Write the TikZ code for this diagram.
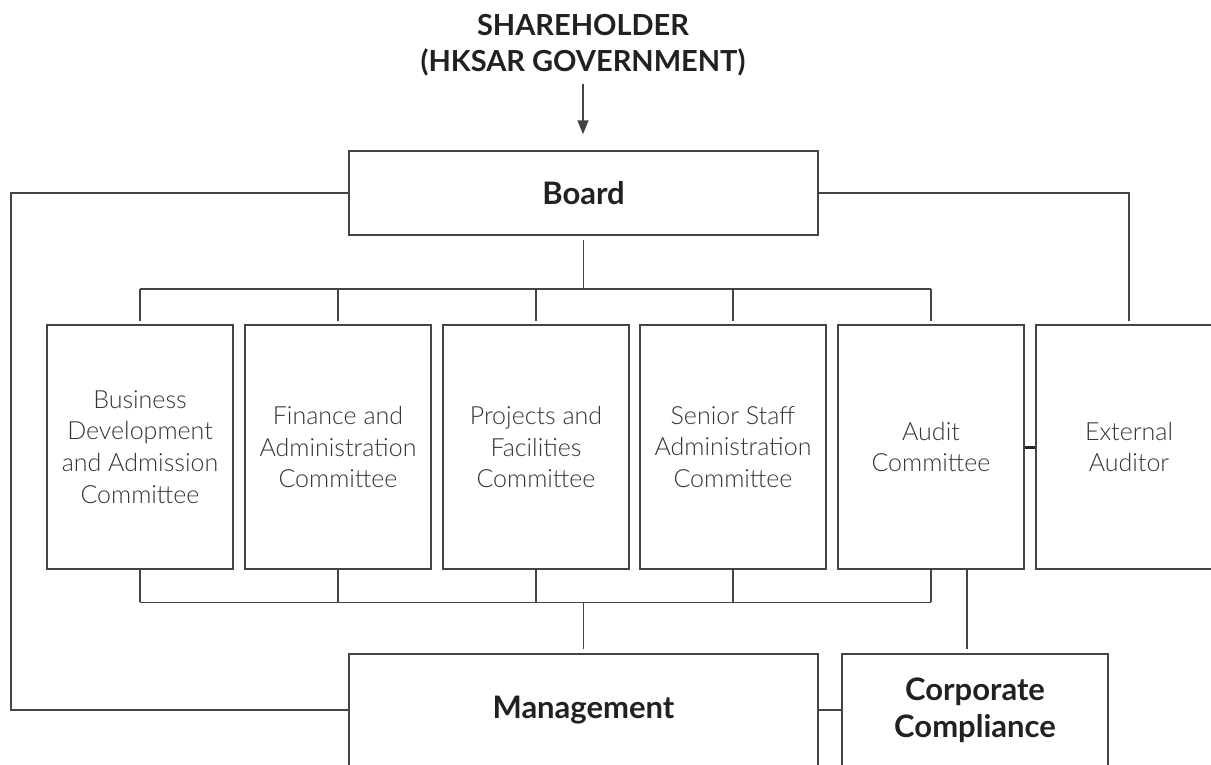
\documentclass[tikz,border=0pt]{standalone}
\usepackage{fontspec}
\setmainfont{Lato}
\newfontfamily\lightfont{Lato Light}
\usetikzlibrary{arrows.meta,calc}
\definecolor{linegray}{HTML}{444444}
\definecolor{textgray}{HTML}{333333}
\tikzset{
  orgline/.style={draw=linegray, line width=1.5pt},
  headbox/.style={orgline, rectangle, inner sep=0pt, align=center,
    font=\fontsize{31}{37}\selectfont\bfseries, text=black!87},
  combox/.style={orgline, rectangle, inner sep=0pt, align=center,
    minimum width=186pt, minimum height=244pt,
    font=\lightfont\fontsize{25}{31.7}\selectfont, text=textgray},
}
\begin{document}
\begin{tikzpicture}[x=1pt,y=-1pt]
  \useasboundingbox (0,0) rectangle (1211,764);
  % top of the chart
  \node[inner sep=0pt, align=center, font=\fontsize{29}{36}\selectfont\bfseries, text=black!87]
    (share) at (583,45) {SHAREHOLDER\\(HKSAR GOVERNMENT)};
  \node[headbox, minimum width=469pt, minimum height=84pt] (board) at (583.5,193) {Board};
  % committees
  \node[combox] (c1) at (140,447) {Business\\Development\\and Admission\\Committee};
  \node[combox] (c2) at (338,447) {Finance and\\Administration\\Committee};
  \node[combox] (c3) at (536,447) {Projects and\\Facilities\\Committee};
  \node[combox] (c4) at (733,447) {Senior Staff\\Administration\\Committee};
  \node[combox] (c5) at (931,447) {Audit\\Committee};
  \node[combox] (ext) at (1129,447) {External\\Auditor};
  % bottom row (boxes run off the page)
  \node[headbox, minimum width=469pt, minimum height=112pt] (mgmt) at (583.5,710) {Management};
  \node[headbox, minimum width=266pt, minimum height=112pt] (cc) at (975,710) {Corporate\\Compliance};
  % connectors
  \draw[orgline, -{Triangle[length=14pt,width=11pt]}, shorten <=8pt, shorten >=16pt]
    (share.south) -- (share.south |- board.north);
  \coordinate (bustop) at ($(board.south)+(0,53)$);
  \coordinate (busbot) at ($(mgmt.north)+(0,-51)$);
  \draw[orgline, shorten <=4pt] (board.south) -- (bustop);
  \draw[orgline] (c1.north |- bustop) -- (c5.north |- bustop);
  \draw[orgline] (c1.south |- busbot) -- (c5.south |- busbot);
  \foreach \c in {c1,c2,c3,c4,c5} {
    \draw[orgline, shorten >=3pt] (\c.north |- bustop) -- (\c.north);
    \draw[orgline] (\c.south) -- (\c.south |- busbot);
  }
  \draw[orgline, shorten >=4pt] (busbot) -- (mgmt.north);
  \draw[orgline, shorten >=3pt] (board.east) -| (ext.north);
  \coordinate (leftrail) at (11,0);
  \draw[orgline] (board.west) -| (leftrail |- mgmt.west) -- (mgmt.west);
  \draw[line width=3pt, black!85] (c5.east) -- (ext.west);
  \coordinate (cctop) at ($(cc.north)+(-8,0)$);
  \draw[orgline, shorten >=4pt] (c5.south -| cctop) -- (cctop);
  \draw[orgline] (mgmt.east) -- (cc.west);
\end{tikzpicture}
\end{document}
